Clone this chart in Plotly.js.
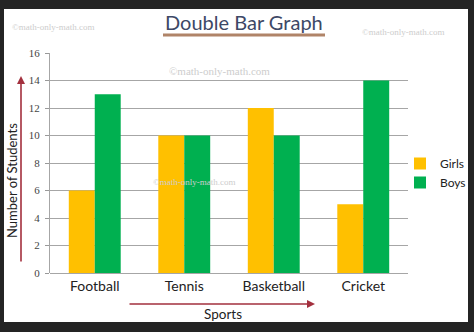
<!DOCTYPE html>
<html><head><meta charset="utf-8">
<script src="https://cdn.plot.ly/plotly-3.0.1.min.js"></script>
<style>
html,body{margin:0;padding:0;background:#242424;width:474px;height:332px;overflow:hidden;}
#chart{position:absolute;left:4px;top:9px;width:464px;height:313px;background:#fff;}
</style></head>
<body><div id="chart"></div>
<script>
const sports = ["Football", "Tennis", "Basketball", "Cricket"];
const girls = [6, 10, 12, 5];
const boys = [13, 10, 10, 14];
const yTicks = [0, 2, 4, 6, 8, 10, 12, 14, 16];

const P = (px) => (px - 50) / 358;
const Q = (py) => 1 - (py - 53) / 220;
const wm = "©math-only-math.com";
const wmFont = (s) => ({family: "Liberation Serif", size: s, color: "#cdcdcd"});
const txt = (px, py, text, font, extra) => Object.assign({xref: "paper", yref: "paper", x: P(px), y: Q(py),
  text: text, showarrow: false, xanchor: "center", yanchor: "middle", font: font}, extra || {});

const data = [
  {type: "bar", name: "Girls", x: sports, y: girls, marker: {color: "#FFC000"}},
  {type: "bar", name: "Boys", x: sports, y: boys, marker: {color: "#00B050"}}
];

const layout = {
  width: 464, height: 313,
  margin: {l: 46, r: 60, t: 44, b: 49, autoexpand: false},
  paper_bgcolor: "#ffffff", plot_bgcolor: "#ffffff",
  barmode: "group", bargap: 0.42, bargroupgap: 0,
  showlegend: true,
  title: {text: "Double Bar Graph", font: {family: "Lato", size: 20, color: "#3d4866"},
          x: 0.517, xref: "container", xanchor: "center", y: 0.955, yref: "container", yanchor: "middle"},
  legend: {x: P(400), y: Q(173), xanchor: "left", yanchor: "middle",
           font: {family: "Lato", size: 12, color: "#222"}, itemwidth: 30, tracegroupgap: 0, bgcolor: "rgba(0,0,0,0)"},
  xaxis: {tickfont: {family: "Lato", size: 14, color: "#222"}, showline: false, ticks: "", showgrid: false,
          ticklabelstandoff: 3},
  yaxis: {range: [0, 16], tickvals: yTicks, ticktext: yTicks.map(String),
          tickfont: {family: "Liberation Serif", size: 11, color: "#444"},
          ticks: "outside", ticklen: 4, tickcolor: "#999", ticklabelstandoff: 3,
          showgrid: true, gridcolor: "#a6a6a6", gridwidth: 1,
          showline: true, linecolor: "#a6a6a6", zeroline: true, zerolinecolor: "#a6a6a6"},
  shapes: [
    {type: "line", xref: "paper", yref: "paper", x0: P(163), x1: P(325), y0: Q(35), y1: Q(35),
     line: {color: "#b08468", width: 3}}
  ],
  annotations: [
    {xref: "paper", yref: "paper", x: P(21), y: Q(76), text: "", showarrow: true,
     ax: 0, ay: 187, arrowhead: 2, arrowsize: 1, arrowwidth: 1.6, arrowcolor: "#a3303e"},
    {xref: "paper", yref: "paper", x: P(315), y: Q(304), text: "", showarrow: true,
     ax: -187, ay: 0, arrowhead: 2, arrowsize: 1, arrowwidth: 1.6, arrowcolor: "#a3303e"},
    txt(12, 181, "Number of Students", {family: "Lato", size: 13, color: "#222"}, {textangle: -90}),
    txt(223, 314, "Sports", {family: "Lato", size: 13.5, color: "#222"}),
    txt(53, 27, wm, wmFont(9)),
    txt(403, 32, wm, wmFont(9)),
    txt(219, 71, wm, wmFont(11)),
    txt(194, 182, wm, wmFont(9))
  ]
};

Plotly.newPlot("chart", data, layout, {displayModeBar: false, staticPlot: true});
</script></body></html>
